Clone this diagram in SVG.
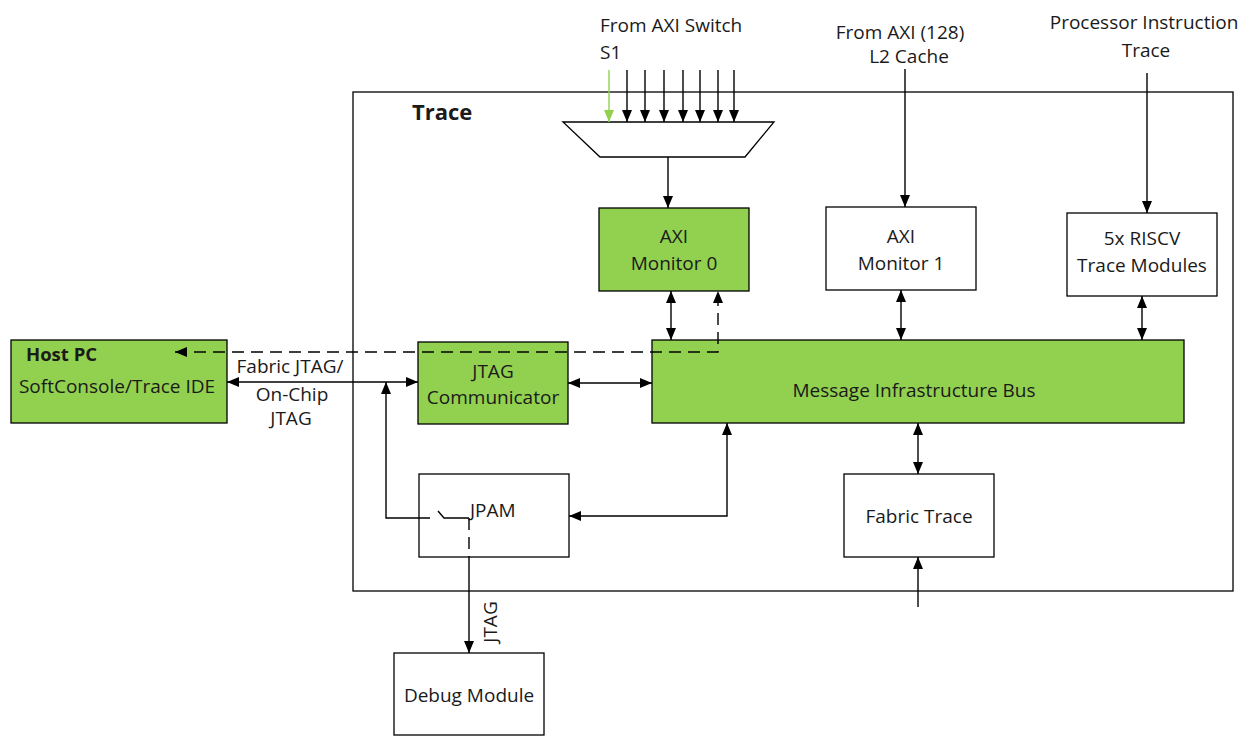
<svg xmlns="http://www.w3.org/2000/svg" width="1250" height="736" viewBox="0 0 1250 736">
<style>
  .box { fill: #ffffff; stroke: #000; stroke-width: 1.3; }
  .green { fill: #92D050; stroke: #000; stroke-width: 1.3; }
  .t { font-family: "Open Sans", "Liberation Sans", sans-serif; font-size: 19px; fill: #1a1a1a; }
  .c { text-anchor: middle; }
  .b { font-weight: bold; }
  .ln { fill: none; stroke: #000; stroke-width: 1.4; }
  .dash { stroke-dasharray: 12 7; }
</style>
<defs>
  <marker id="ah" viewBox="0 0 12 10" refX="12" refY="5" markerWidth="12" markerHeight="10" markerUnits="userSpaceOnUse" orient="auto-start-reverse">
    <path d="M0,0 L12,5 L0,10 z" fill="#000"/>
  </marker>
  <marker id="ahg" viewBox="0 0 12 10" refX="12" refY="5" markerWidth="12" markerHeight="10" markerUnits="userSpaceOnUse" orient="auto">
    <path d="M0,0 L12,5 L0,10 z" fill="#92D050"/>
  </marker>
</defs>

<g id="trace-container">
  <rect class="box" x="353" y="92" width="880" height="499"/>
  <text class="t b" x="412" y="120" style="font-size:22px">Trace</text>
</g>

<g id="mux">
  <polygon class="box" points="563,122 774,122 745,157 600,157"/>
</g>

<g id="axi-monitor-0">
  <rect class="green" x="599" y="208" width="150" height="83"/>
  <text class="t c" x="674" y="243">AXI</text>
  <text class="t c" x="674" y="270">Monitor 0</text>
</g>

<g id="axi-monitor-1">
  <rect class="box" x="826" y="207" width="150" height="83"/>
  <text class="t c" x="901" y="243">AXI</text>
  <text class="t c" x="901" y="270">Monitor 1</text>
</g>

<g id="riscv-trace">
  <rect class="box" x="1067" y="213" width="150" height="83"/>
  <text class="t c" x="1142" y="245">5x RISCV</text>
  <text class="t c" x="1142" y="272">Trace Modules</text>
</g>

<g id="message-bus">
  <rect class="green" x="652" y="340" width="532" height="83"/>
  <text class="t c" x="914" y="397">Message Infrastructure Bus</text>
</g>

<g id="jtag-communicator">
  <rect class="green" x="418" y="342" width="150" height="82"/>
  <text class="t c" x="493" y="378">JTAG</text>
  <text class="t c" x="493" y="404">Communicator</text>
</g>

<g id="host-pc">
  <rect class="green" x="11" y="340" width="216" height="83"/>
  <text class="t b" x="26" y="361" style="font-size:18.5px">Host PC</text>
  <text class="t c" x="117" y="393">SoftConsole/Trace IDE</text>
</g>

<g id="jpam">
  <rect class="box" x="419" y="474" width="150" height="83"/>
  <text class="t" x="470" y="517">JPAM</text>
</g>

<g id="fabric-trace">
  <rect class="box" x="844" y="474" width="150" height="83"/>
  <text class="t c" x="919" y="523">Fabric Trace</text>
</g>

<g id="debug-module">
  <rect class="box" x="394" y="653" width="150" height="82"/>
  <text class="t c" x="469" y="702">Debug Module</text>
</g>

<g id="labels">
  <text class="t" x="600" y="32">From AXI Switch</text>
  <text class="t" x="600" y="59">S1</text>
  <text class="t c" x="900" y="39">From AXI (128)</text>
  <text class="t c" x="909" y="63">L2 Cache</text>
  <text class="t c" x="1144" y="29">Processor Instruction</text>
  <text class="t c" x="1146" y="57">Trace</text>
  <text class="t c" x="290" y="373">Fabric JTAG/</text>
  <text class="t c" x="292" y="401">On-Chip</text>
  <text class="t c" x="291" y="425">JTAG</text>
  <text class="t c" transform="translate(497,622) rotate(-90)">JTAG</text>
</g>

<g id="connectors">
  <line x1="609" y1="70" x2="609" y2="122" stroke="#92D050" stroke-width="1.4" marker-end="url(#ahg)"/>
  <line class="ln" x1="627" y1="70" x2="627" y2="122" marker-end="url(#ah)"/>
  <line class="ln" x1="645" y1="70" x2="645" y2="122" marker-end="url(#ah)"/>
  <line class="ln" x1="664" y1="70" x2="664" y2="122" marker-end="url(#ah)"/>
  <line class="ln" x1="683" y1="70" x2="683" y2="122" marker-end="url(#ah)"/>
  <line class="ln" x1="700" y1="70" x2="700" y2="122" marker-end="url(#ah)"/>
  <line class="ln" x1="718" y1="70" x2="718" y2="122" marker-end="url(#ah)"/>
  <line class="ln" x1="734" y1="70" x2="734" y2="122" marker-end="url(#ah)"/>
  <line class="ln" x1="668" y1="157" x2="668" y2="208" marker-end="url(#ah)"/>
  <line class="ln" x1="905" y1="69" x2="905" y2="207" marker-end="url(#ah)"/>
  <line class="ln" x1="1147" y1="73" x2="1147" y2="213" marker-end="url(#ah)"/>
  <line class="ln" x1="671" y1="291" x2="671" y2="340" marker-start="url(#ah)" marker-end="url(#ah)"/>
  <line class="ln" x1="901" y1="290" x2="901" y2="340" marker-start="url(#ah)" marker-end="url(#ah)"/>
  <line class="ln" x1="1142" y1="296" x2="1142" y2="340" marker-start="url(#ah)" marker-end="url(#ah)"/>
  <line class="ln" x1="918" y1="423" x2="918" y2="474" marker-start="url(#ah)" marker-end="url(#ah)"/>
  <line class="ln" x1="918" y1="607" x2="918" y2="557" marker-end="url(#ah)"/>
  <line class="ln" x1="227" y1="382" x2="418" y2="382" marker-start="url(#ah)" marker-end="url(#ah)"/>
  <line class="ln" x1="568" y1="383" x2="652" y2="383" marker-start="url(#ah)" marker-end="url(#ah)"/>
  <path class="ln dash" d="M175,352 L718,352 L718,291" marker-start="url(#ah)" marker-end="url(#ah)"/>
  <path class="ln" d="M430,518 L386,518 L386,382" marker-end="url(#ah)"/>
  <path class="ln" d="M438,511 L444,518 L469,518"/>
  <line class="ln dash" x1="469" y1="518" x2="469" y2="557"/>
  <line class="ln" x1="469" y1="557" x2="469" y2="653" marker-end="url(#ah)"/>
  <path class="ln" d="M727,423 L727,516 L569,516" marker-start="url(#ah)" marker-end="url(#ah)"/>
</g>
</svg>
